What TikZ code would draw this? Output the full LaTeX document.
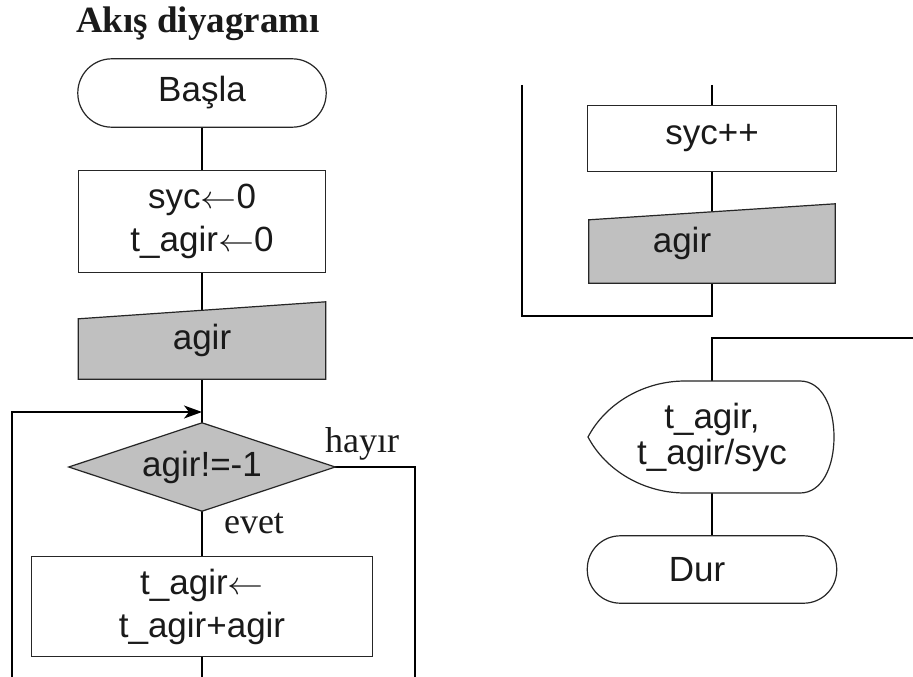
\documentclass[tikz,border=0pt]{standalone}
\usepackage{fontspec}
\setmainfont{Liberation Serif}
\setsansfont{Liberation Sans}
\usetikzlibrary{arrows.meta,backgrounds,calc}
\definecolor{shade}{HTML}{C0C0C0}
\definecolor{ink}{HTML}{1A1A1A}
\newcommand{\asgarrow}{\scalebox{3.6}[3.2]{\fontsize{10}{12}\selectfont$\leftarrow$}}
\begin{document}
\begin{tikzpicture}[x=1pt,y=-1pt,
  line/.style={line width=1.4pt, draw=black},
  shp/.style={line width=1.2pt, draw=black!85},
  txt/.style={font=\sffamily\fontsize{35}{43}\selectfont, text=ink, inner sep=0pt},
  mtxt/.style={txt, align=center},
  lbl/.style={font=\fontsize{36}{40}\selectfont, text=ink, inner sep=0pt, anchor=base},
  tip/.style={-{Stealth[length=18pt,width=13pt,inset=5pt]}}]
\useasboundingbox (0,0) rectangle (913,677);

% title and labels
\node[lbl, font=\bfseries\fontsize{37}{40}\selectfont] (title) at (198,33) {Akış diyagramı};
\node[lbl] (hayir) at (362,452) {hayır};
\node[lbl] (evet) at (254,533) {evet};

% left column
\node[txt, minimum width=248pt, minimum height=68pt] (start) at (202,93) {Başla};
\node[mtxt, minimum width=247pt, minimum height=101pt] (b1) at (202,221.5) {syc\asgarrow0\\t\_agir\asgarrow0};
\node[txt, minimum width=247pt, minimum height=77pt] (in1) at (202,340.5) {agir};
\node[txt, minimum width=266pt, minimum height=88pt] (dec) at (202,467) {agir!=-1};
\node[mtxt, minimum width=341pt, minimum height=99pt] (b2) at (202,606.5) {t\_agir\asgarrow\\t\_agir+agir};

% right column
\node[txt, minimum width=248pt, minimum height=65pt] (b3) at (712,138.5) {syc++};
\node[txt, minimum width=246pt, minimum height=79pt] (in2) at (712,243.5) {agir\kern60pt};
\node[mtxt, font=\sffamily\fontsize{35}{36}\selectfont, minimum width=246pt, minimum height=112pt] (disp) at (712,437) {t\_agir,\\t\_agir/syc};
\node[txt, minimum width=249pt, minimum height=67pt] (stop) at (712,569.5) {Dur\kern30pt};

% free ends
\coordinate (loopS) at (12,677);
\coordinate (loopJ) at (202,412);
\coordinate (noS) at (415,677);
\coordinate (b2out) at (202,677);
\coordinate (rL) at (522,85);
\coordinate (rJ) at (712,316);
\coordinate (rT) at (712,85);
\coordinate (outR) at (913,338);

\begin{scope}[on background layer]
  \fill[white] (0,0) rectangle (913,677);
  % connectors
  \draw[line] (start.south) -- (b1.north);
  \draw[line] (b1.south) -- (in1.center);
  \draw[line] (in1.south) -- (dec.north);
  \draw[line, tip] (loopS) |- (loopJ);
  \draw[line] (dec.east) -| (noS);
  \draw[line] (dec.south) -- (b2.north);
  \draw[line] (b2.south) -- (b2out);
  \draw[line] (rL) |- (rJ) -- (in2.south);
  \draw[line] (rT) -- (b3.north);
  \draw[line] (b3.south) -- (in2.center);
  \draw[line] (outR) -| (disp.north);
  \draw[line] (disp.south) -- (stop.north);
  % shapes
  \draw[shp, fill=white, rounded corners=34pt] (start.north west) rectangle (start.south east);
  \draw[shp, fill=white] (b1.north west) rectangle (b1.south east);
  \filldraw[shp, fill=shade] ($(in1.north west)+(0,17)$) -- (in1.north east) -- (in1.south east) -- (in1.south west) -- cycle;
  \filldraw[shp, fill=shade] (dec.west) -- (dec.north) -- (dec.east) -- (dec.south) -- cycle;
  \draw[shp, fill=white] (b2.north west) rectangle (b2.south east);
  \draw[shp, fill=white] (b3.north west) rectangle (b3.south east);
  \filldraw[shp, fill=shade] ($(in2.north west)+(0,16)$) -- (in2.north east) -- (in2.south east) -- (in2.south west) -- cycle;
  \draw[shp, fill=white, shift={(disp.center)}] (-124,0) .. controls (-106,-34) and (-68,-56) .. (-27,-56) -- (88,-56) .. controls (110,-56) and (122,-30) .. (122,0) .. controls (122,30) and (110,56) .. (88,56) -- (-27,56) .. controls (-68,56) and (-106,34) .. (-124,0) -- cycle;
  \draw[shp, fill=white, rounded corners=33pt] (stop.north west) rectangle (stop.south east);
\end{scope}
\end{tikzpicture}
\end{document}
